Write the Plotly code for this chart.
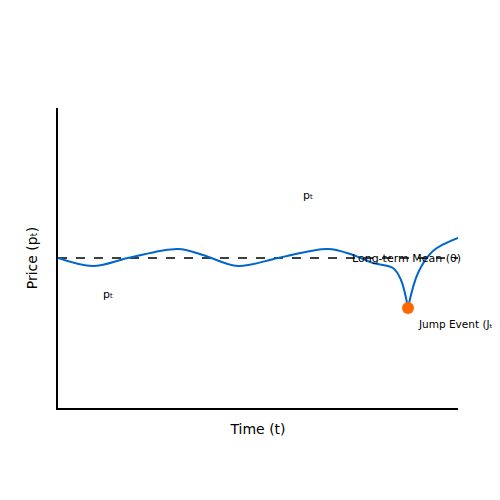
import plotly.graph_objects as go

x_pre = [0, 0.875, 1.75, 3, 3.625, 4.5, 5.5, 6.75, 7.375, 7.875, 8.375, 8.575, 8.75]
y_pre = [5, 4.733, 5, 5.3, 5.1, 4.733, 5, 5.3, 5.1, 4.833, 4.667, 4.267, 3.333]
x_post = [8.75, 9, 9.375, 10]
y_post = [3.333, 4.5, 5.233, 5.667]
mean_level = 5
jump_x, jump_y = [8.75], [3.333]

fig = go.Figure()
fig.add_trace(go.Scatter(x=[0, 10], y=[mean_level, mean_level], mode="lines",
                         line=dict(color="black", width=1.3, dash="dash")))
fig.add_trace(go.Scatter(x=x_pre, y=y_pre, mode="lines",
                         line=dict(color="#0066cc", width=2, shape="spline", smoothing=1)))
fig.add_trace(go.Scatter(x=x_post, y=y_post, mode="lines",
                         line=dict(color="#0066cc", width=2, shape="spline", smoothing=1)))
fig.add_trace(go.Scatter(x=jump_x, y=jump_y, mode="markers",
                         marker=dict(color="#ff6600", size=12)))

f = dict(family="DejaVu Sans", size=11, color="black")
fig.add_annotation(x=6.25, y=7.1, text="pₜ", showarrow=False, font=f)
fig.add_annotation(x=1.25, y=3.77, text="pₜ", showarrow=False, font=f)
fig.add_annotation(x=7.3, y=5, text="Long-term Mean (θ)", showarrow=False, font=f, xanchor="left")
fig.add_annotation(x=8.95, y=2.8, text="Jump Event (Jₜ)", showarrow=False,
                   font=dict(family="DejaVu Sans", size=10.5, color="black"), xanchor="left")

fig.update_layout(
    width=500, height=500, showlegend=False,
    paper_bgcolor="white", plot_bgcolor="white",
    margin=dict(l=50, r=50, t=100, b=100, autoexpand=False),
    font=dict(family="DejaVu Sans", size=12, color="black"),
    xaxis=dict(range=[0, 10], showgrid=False, zeroline=False, showticklabels=False,
               showline=True, linecolor="black", linewidth=2, automargin=False,
               title=dict(text="Time (t)", standoff=15)),
    yaxis=dict(range=[0, 10], showgrid=False, zeroline=False, showticklabels=False,
               showline=True, linecolor="black", linewidth=2, automargin=False,
               title=dict(text="Price (pₜ)", standoff=15)),
)
fig.write_html("out.html")
